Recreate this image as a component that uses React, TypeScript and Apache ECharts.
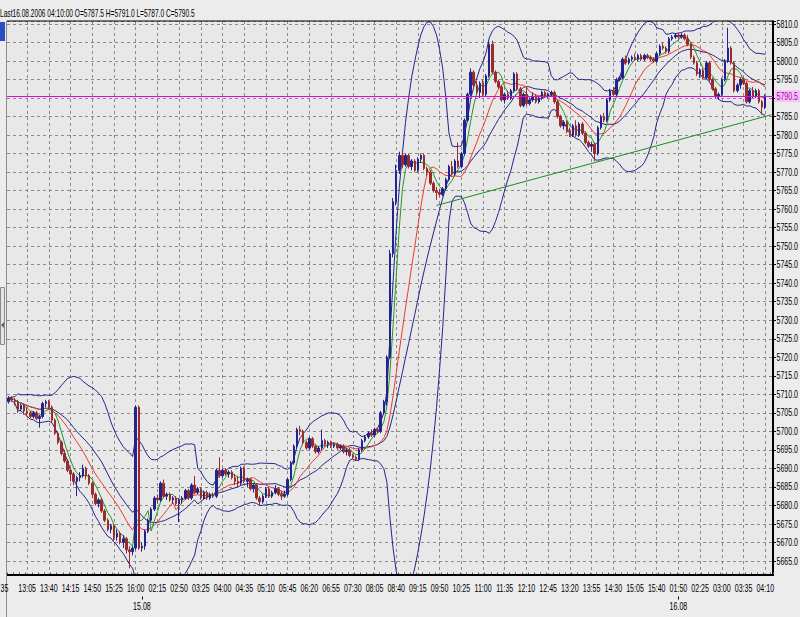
import { useEffect, useRef } from 'react';
import * as echarts from 'echarts';

// Trading sessions (5-minute bars)
const sessions = [
  { date: '14.08', start: '12:35', bars: 43 },
  { date: '15.08', start: '01:50', bars: 173 },
  { date: '16.08', start: '01:50', bars: 29 },
];
const padTimes = ['16.08 04:15', '16.08 04:20'];

// [open, close, low, high]
const bars14: number[][] = [
  [5708, 5709, 5707.5, 5709.5], [5709, 5708.5, 5708, 5709.5], [5708.5, 5708, 5707, 5709], [5708, 5706, 5705, 5708.5],
  [5706, 5707, 5705.5, 5707.5], [5707, 5705.5, 5704.5, 5707.5], [5705.5, 5705, 5704, 5706.5], [5705, 5704, 5703.5, 5705.5],
  [5704, 5705, 5703.5, 5705.5], [5705, 5703.5, 5703, 5705.5], [5703.5, 5704, 5701, 5704.5], [5704, 5707.5, 5703.5, 5708],
  [5707.5, 5708, 5706.5, 5708.5], [5708, 5706.5, 5706, 5708.5], [5706.5, 5703, 5702.5, 5707], [5703, 5699.5, 5699, 5703.5],
  [5699.5, 5697, 5696.5, 5700], [5697, 5694, 5693.5, 5697.5], [5694, 5692, 5691.5, 5695], [5692, 5689.5, 5689, 5692.5],
  [5689.5, 5688.5, 5686.5, 5690], [5688.5, 5686.5, 5685.5, 5689], [5686.5, 5687.5, 5682.5, 5688], [5687.5, 5688, 5686.5, 5689],
  [5688, 5690, 5687.5, 5691], [5690, 5688, 5687, 5690.5], [5688, 5686, 5685.5, 5688.5], [5686, 5683, 5682, 5686.5],
  [5683, 5680.5, 5680, 5683.5], [5680.5, 5681.5, 5679.5, 5682], [5681.5, 5678.5, 5678, 5682], [5678.5, 5676, 5675.5, 5679],
  [5676, 5673.5, 5673, 5676.5], [5673.5, 5674.5, 5672.5, 5675], [5674.5, 5671.5, 5670.5, 5675], [5671.5, 5672.5, 5670.5, 5673.5],
  [5672.5, 5670, 5669.5, 5673], [5670, 5671, 5668.5, 5672], [5671, 5668, 5667, 5671.5], [5668, 5667.5, 5663, 5669],
  [5667.5, 5668.5, 5666.5, 5669], [5668.5, 5706.5, 5668, 5707], [5706.5, 5668.5, 5668, 5707],
];

const bars15: number[][] = [
  [5668.5, 5669, 5667.5, 5670], [5669, 5673, 5668, 5673.5], [5673, 5676, 5672.5, 5676.5], [5676, 5679, 5675.5, 5679.5],
  [5679, 5682, 5678.5, 5682.5], [5682, 5681.5, 5680.5, 5683], [5681.5, 5686, 5681, 5686.5], [5686, 5682.5, 5682, 5687],
  [5682.5, 5683, 5681.5, 5683.5], [5683, 5681.5, 5681, 5683.5], [5681.5, 5682, 5680.5, 5682.5], [5682, 5680.5, 5680, 5682.5],
  [5680.5, 5681.5, 5675.5, 5682], [5681.5, 5682, 5680.5, 5682.5], [5682, 5684, 5681.5, 5684.5], [5684, 5682, 5681.5, 5684.5],
  [5682, 5685.5, 5681.5, 5686], [5685.5, 5683.5, 5683, 5688], [5683.5, 5684.5, 5683, 5685], [5684.5, 5682, 5681.5, 5685],
  [5682, 5683.5, 5681.5, 5684], [5683.5, 5682, 5681.5, 5684], [5682, 5683, 5681.5, 5683.5], [5683, 5682.5, 5682, 5683.5],
  [5682.5, 5689.5, 5682, 5690], [5689.5, 5688, 5687.5, 5693], [5688, 5689.5, 5687.5, 5690], [5689.5, 5688.5, 5688, 5690],
  [5688.5, 5689, 5687.5, 5689.5], [5689, 5687.5, 5687, 5689.5], [5687.5, 5686.5, 5685.5, 5688.5], [5686.5, 5686, 5685, 5688],
  [5686, 5690, 5685.5, 5690.5], [5690, 5686.5, 5686, 5690.5], [5686.5, 5687, 5685, 5687.5], [5687, 5684.5, 5684, 5687.5],
  [5684.5, 5685.5, 5683.5, 5686], [5685.5, 5682, 5681.5, 5686], [5682, 5681, 5680, 5682.5], [5681, 5682.5, 5680.5, 5683],
  [5682.5, 5684.5, 5682, 5685], [5684.5, 5682.5, 5682, 5685], [5682.5, 5683.5, 5682, 5684], [5683.5, 5684.5, 5683, 5685.5],
  [5684.5, 5683, 5682.5, 5685], [5683, 5682.5, 5681.5, 5684], [5682.5, 5683, 5682, 5684], [5683, 5687, 5682.5, 5687.5],
  [5687, 5691.5, 5686.5, 5692], [5691.5, 5696, 5691, 5696.5], [5696, 5700.5, 5695.5, 5701], [5700.5, 5700, 5699, 5701.5],
  [5700, 5697, 5696.5, 5700.5], [5697, 5695.5, 5695, 5697.5], [5695.5, 5698, 5695, 5698.5], [5698, 5696, 5695.5, 5698.5],
  [5696, 5694.5, 5694, 5696.5], [5694.5, 5695.5, 5694, 5696], [5695.5, 5697.5, 5695, 5700.5], [5697.5, 5696.5, 5696, 5698],
  [5696.5, 5697, 5695.5, 5697.5], [5697, 5696, 5695.5, 5697.5], [5696, 5696.5, 5695.5, 5697], [5696.5, 5695.5, 5695, 5697],
  [5695.5, 5696, 5695, 5696.5], [5696, 5694.5, 5694, 5696.5], [5694.5, 5695, 5693.5, 5695.5], [5695, 5693.5, 5693, 5695.5],
  [5693.5, 5693, 5692.5, 5694], [5693, 5692.5, 5692, 5693.5], [5692.5, 5695, 5692, 5695.5], [5695, 5697.5, 5694.5, 5698],
  [5697.5, 5698.5, 5697, 5699], [5698.5, 5699.5, 5698, 5700], [5699.5, 5699, 5698.5, 5700.5], [5699, 5700.5, 5698.5, 5701],
  [5700.5, 5700, 5699.5, 5701], [5700, 5705, 5699.5, 5705.5], [5705, 5708, 5704.5, 5708.5], [5708, 5720, 5707, 5720.5],
  [5720, 5748, 5719.5, 5749], [5748, 5762, 5747, 5763], [5762, 5770.5, 5761, 5772], [5770.5, 5774.5, 5769.5, 5775.5],
  [5774.5, 5772, 5771, 5775.5], [5772, 5774.5, 5771.5, 5775], [5774.5, 5771.5, 5771, 5775], [5771.5, 5773, 5770.5, 5773.5],
  [5773, 5770.5, 5770, 5773.5], [5770.5, 5773.5, 5770, 5774], [5773.5, 5774.5, 5772.5, 5775], [5774.5, 5771, 5770.5, 5775],
  [5771, 5770, 5769, 5771.5], [5770, 5767, 5766.5, 5770.5], [5767, 5765, 5764.5, 5767.5], [5765, 5764.5, 5762.5, 5766],
  [5764.5, 5764, 5763.5, 5765.5], [5764, 5765.5, 5763.5, 5766], [5765.5, 5768, 5765, 5768.5], [5768, 5771.5, 5767.5, 5772],
  [5771.5, 5769.5, 5769, 5773], [5769.5, 5773, 5769, 5773.5], [5773, 5771.5, 5771, 5778], [5771.5, 5775, 5771, 5775.5],
  [5775, 5784, 5774.5, 5784.5], [5784, 5791, 5783.5, 5791.5], [5791, 5797, 5790.5, 5798], [5797, 5793.5, 5793, 5797.5],
  [5793.5, 5791.5, 5791, 5794.5], [5791.5, 5794, 5790, 5794.5], [5794, 5791, 5790.5, 5795], [5791, 5796, 5790.5, 5796.5],
  [5796, 5804.5, 5795.5, 5805.5], [5804.5, 5797, 5796.5, 5805.5], [5797, 5794.5, 5794, 5797.5], [5794.5, 5793, 5792.5, 5795],
  [5793, 5789.5, 5789, 5793.5], [5789.5, 5791, 5788.5, 5791.5], [5791, 5790, 5789.5, 5792], [5790, 5792, 5789.5, 5792.5],
  [5792, 5796.5, 5791.5, 5797], [5796.5, 5792.5, 5792, 5797], [5792.5, 5788, 5787.5, 5793], [5788, 5791, 5787.5, 5791.5],
  [5791, 5788.5, 5788, 5793], [5788.5, 5789.5, 5788, 5790], [5789.5, 5790.5, 5789, 5791.5], [5790.5, 5789, 5788.5, 5791],
  [5789, 5790, 5788.5, 5790.5], [5790, 5791.5, 5789.5, 5792], [5791.5, 5790.5, 5790, 5792], [5790.5, 5791, 5790, 5791.5],
  [5791, 5791.5, 5790.5, 5792], [5791.5, 5789, 5788.5, 5792], [5789, 5785, 5784.5, 5789.5], [5785, 5782.5, 5782, 5785.5],
  [5782.5, 5783.5, 5781.5, 5784], [5783.5, 5781, 5780.5, 5784], [5781, 5780, 5779.5, 5782], [5780, 5782.5, 5779.5, 5783],
  [5782.5, 5780, 5779.5, 5784], [5780, 5783, 5779.5, 5783.5], [5783, 5780.5, 5780, 5783.5], [5780.5, 5778, 5777.5, 5781],
  [5778, 5777, 5776.5, 5778.5], [5777, 5777.5, 5775.5, 5778], [5777.5, 5775, 5773, 5778], [5775, 5782, 5774.5, 5782.5],
  [5782, 5785, 5781.5, 5785.5], [5785, 5784, 5783.5, 5786], [5784, 5789.5, 5783.5, 5790], [5789.5, 5792, 5789, 5792.5],
  [5792, 5791, 5790.5, 5793], [5791, 5795, 5790.5, 5795.5], [5795, 5795.5, 5794.5, 5796], [5795.5, 5800.5, 5795, 5801],
  [5800.5, 5799.5, 5799, 5801.5], [5799.5, 5800.5, 5799, 5801], [5800.5, 5801, 5800, 5801.5], [5801, 5800.5, 5800, 5802],
  [5800.5, 5801.5, 5800, 5802], [5801.5, 5800.5, 5800, 5802], [5800.5, 5801.5, 5800, 5802], [5801.5, 5801, 5800.5, 5802],
  [5801, 5800.5, 5800, 5801.5], [5800.5, 5800, 5799.5, 5801], [5800, 5802, 5799.5, 5802.5], [5802, 5804, 5801.5, 5804.5],
  [5804, 5803.5, 5803, 5805], [5803.5, 5802.5, 5802, 5804], [5802.5, 5806, 5802, 5806.5], [5806, 5806.5, 5805.5, 5807],
  [5806.5, 5807, 5806, 5807.5],
];

const bars16: number[][] = [
  [5807, 5806.5, 5806, 5807.5], [5806.5, 5807, 5806, 5807.5], [5807, 5806, 5805.5, 5807.5], [5806, 5804.5, 5804, 5807],
  [5804.5, 5801, 5800.5, 5805], [5801, 5799.5, 5799, 5801.5], [5799.5, 5796.5, 5796, 5800], [5796.5, 5797.5, 5795.5, 5798],
  [5797.5, 5795.5, 5795, 5798], [5795.5, 5799.5, 5795, 5800], [5799.5, 5795, 5794.5, 5800], [5795, 5792.5, 5792, 5795.5],
  [5792.5, 5790.5, 5790, 5793], [5790.5, 5791, 5789.5, 5791.5], [5791, 5795, 5790.5, 5795.5], [5795, 5800, 5794.5, 5800.5],
  [5800, 5803.5, 5799.5, 5809], [5803.5, 5799.5, 5799, 5804], [5799.5, 5792, 5791.5, 5800], [5792, 5793.5, 5791.5, 5794],
  [5793.5, 5795, 5792.5, 5795.5], [5795, 5794, 5793.5, 5795.5], [5794, 5789, 5788.5, 5794.5], [5789, 5792, 5788.5, 5792.5],
  [5792, 5790.5, 5790, 5793], [5790.5, 5792, 5790, 5792.5], [5792, 5789, 5788.5, 5792.5], [5789, 5787.5, 5785.5, 5789.5],
  [5787.5, 5790.5, 5787, 5791],
];

const headerText = 'Last16.08.2006 04:10:00 O=5787.5 H=5791.0 L=5787.0 C=5790.5';
const firstLabelTail = '35';
const lastPrice = 5790.5;
const trendStart = { index: 138, value: 5761 };
const trendEnd = { index: 246, value: 5785.5 };
const yTickFirst = 5665;
const yTickLast = 5810;
const yTickStep = 5;
const maFastPeriod = 5;
const maSlowPeriod = 13;
const bandPeriod = 20;
const bandDev = 2;

const FONT = "'Liberation Sans', Arial, sans-serif";
const SQ = 0.64; // horizontal squeeze of the condensed terminal font

function buildCategories(): string[] {
  const out: string[] = [];
  sessions.forEach((s) => {
    const [h, m] = s.start.split(':').map(Number);
    let t = h * 60 + m;
    for (let i = 0; i < s.bars; i++) {
      const hh = String(Math.floor(t / 60)).padStart(2, '0');
      const mm = String(t % 60).padStart(2, '0');
      out.push(`${s.date} ${hh}:${mm}`);
      t += 5;
    }
  });
  return out.concat(padTimes);
}

function sma(vals: number[], n: number): number[] {
  return vals.map((_, i) => {
    const s = Math.max(0, i - n + 1);
    let sum = 0;
    for (let k = s; k <= i; k++) sum += vals[k];
    return +(sum / (i - s + 1)).toFixed(2);
  });
}

function bands(vals: number[], n: number, dev: number) {
  const mid = sma(vals, n);
  const up: number[] = [];
  const lo: number[] = [];
  vals.forEach((_, i) => {
    const s = Math.max(0, i - n + 1);
    let v = 0;
    for (let k = s; k <= i; k++) v += (vals[k] - mid[i]) ** 2;
    const sd = Math.sqrt(v / (i - s + 1));
    up.push(+(mid[i] + dev * sd).toFixed(2));
    lo.push(+(mid[i] - dev * sd).toFixed(2));
  });
  return { mid, up, lo };
}

function squeezedText(text: string, x: number, y: number, align: string, extra: any = {}, scale = SQ) {
  return {
    type: 'text',
    z: 110,
    x,
    y,
    scaleX: scale,
    silent: true,
    style: {
      text,
      x: 0,
      y: 0,
      fontSize: 11,
      fontFamily: FONT,
      fill: '#000',
      align,
      verticalAlign: 'middle',
      ...extra,
    },
  };
}

export default function App() {
  const ref = useRef<HTMLDivElement>(null);
  useEffect(() => {
    if (!ref.current) return;
    const chart = echarts.init(ref.current, undefined, { renderer: 'svg' });
    const cats = buildCategories();
    const ohlc = [...bars14, ...bars15, ...bars16];
    const closes = ohlc.map((b) => b[1]);
    const maFast = sma(closes, maFastPeriod);
    const maSlow = sma(closes, maSlowPeriod);
    const bb = bands(closes, bandPeriod, bandDev);
    const nBars = ohlc.length;
    const labelIdx = (i: number) => i >= 6 && (i - 6) % 7 === 0 && i < nBars;
    const dateIdx: number[] = [];
    let acc = 0;
    sessions.forEach((s, k) => {
      if (k > 0) dateIdx.push(acc);
      acc += s.bars;
    });

    const gridTop = 21;
    const gridBottomY = 579.5;
    const navy = '#24248c';
    const lineSeries = (name: string, data: number[], color: string) => ({
      name,
      type: 'line',
      data,
      showSymbol: false,
      symbol: 'none',
      silent: true,
      lineStyle: { color, width: 1 },
      z: 3,
    });

    const staticGraphics: any[] = [
      { type: 'rect', z: 100, shape: { x: 0, y: 576, width: 780, height: 6 }, style: { fill: '#ececec' }, silent: true },
      { type: 'rect', z: 100, shape: { x: 0, y: 0, width: 780, height: 20.5 }, style: { fill: '#ececec' }, silent: true },
      { type: 'line', z: 101, shape: { x1: 7, y1: 21, x2: 774, y2: 21 }, style: { stroke: '#000', lineWidth: 1 }, silent: true },
      { type: 'line', z: 101, shape: { x1: 7, y1: 575, x2: 774, y2: 575 }, style: { stroke: '#000', lineWidth: 2 }, silent: true },
      { type: 'line', z: 101, shape: { x1: 6.5, y1: 21, x2: 6.5, y2: 617 }, style: { stroke: '#8c8c8c', lineWidth: 1 }, silent: true },
      { type: 'rect', z: 101, shape: { x: 0, y: 22, width: 5, height: 19 }, style: { fill: '#2d4cc6' }, silent: true },
      { type: 'rect', z: 101, shape: { x: 0.5, y: 287.5, width: 4, height: 57 }, style: { fill: '#e4e4e4', stroke: '#8c8c8c', lineWidth: 1 }, silent: true },
      { type: 'polygon', z: 102, shape: { points: [[1, 325], [4, 322], [4, 328]] }, style: { fill: '#666' }, silent: true },
      squeezedText(headerText, 0, 13, 'left', {}, 0.6),
    ];

    chart.setOption({
      animation: false,
      backgroundColor: '#ececec',
      textStyle: { fontFamily: FONT },
      grid: {
        left: 7,
        top: gridTop,
        width: 766,
        height: gridBottomY - gridTop,
        show: true,
        backgroundColor: '#e8e8e8',
        borderWidth: 0,
      },
      xAxis: [
        {
          type: 'category',
          data: cats,
          boundaryGap: true,
          axisLine: { show: false },
          axisTick: { show: true, inside: true, length: 7, interval: 1, lineStyle: { color: '#555' } },
          axisLabel: { show: false, interval: (i: number) => labelIdx(i) },
          splitLine: {
            show: true,
            interval: (i: number) => labelIdx(i),
            alignWithLabel: true,
            lineStyle: { color: '#8a8a8a', type: [3, 3], width: 1 },
          },
        },
        {
          type: 'category',
          data: cats,
          position: 'bottom',
          offset: 17,
          axisLine: { show: false },
          axisTick: {
            show: true,
            alignWithLabel: true,
            interval: (i: number) => dateIdx.includes(i),
            length: 3,
            lineStyle: { color: '#000' },
          },
          axisLabel: { show: false },
          splitLine: { show: false },
        },
      ],
      yAxis: {
        type: 'value',
        position: 'right',
        min: 5660,
        max: 5810.81,
        interval: 5,
        axisLine: { show: true, lineStyle: { color: '#000', width: 2 } },
        axisTick: { show: true, length: 3, lineStyle: { color: '#000' } },
        axisLabel: { show: false },
        splitLine: { show: true, lineStyle: { color: '#8a8a8a', type: [3, 3], width: 1 } },
      },
      series: [
        {
          name: 'price',
          type: 'candlestick',
          data: ohlc,
          barWidth: 2,
          silent: true,
          z: 4,
          itemStyle: {
            color: '#23238f',
            color0: '#9a2b2b',
            borderColor: '#23238f',
            borderColor0: '#9a2b2b',
            borderWidth: 1,
          },
          markLine: {
            silent: true,
            symbol: 'none',
            animation: false,
            label: { show: false },
            data: [
              { yAxis: lastPrice, lineStyle: { color: '#e600e6', width: 1, type: 'solid' } },
              [
                { coord: [cats[trendStart.index], trendStart.value], lineStyle: { color: '#1e8a1e', width: 1, type: 'solid' } },
                { coord: [cats[trendEnd.index], trendEnd.value] },
              ],
            ],
          },
        },
        lineSeries('upper', bb.up, navy),
        lineSeries('middle', bb.mid, navy),
        lineSeries('lower', bb.lo, navy),
        lineSeries('maSlow', maSlow, '#ee3a2a'),
        lineSeries('maFast', maFast, '#229922'),
      ],
      graphic: staticGraphics,
    });

    // Tick labels placed through the chart's own scales, drawn in a squeezed font
    const labels: any[] = [];
    const px = (i: number) => chart.convertToPixel({ xAxisIndex: 0 }, cats[i]) as number;
    const py = (v: number) => chart.convertToPixel({ yAxisIndex: 0 }, v) as number;
    labels.push(squeezedText(firstLabelTail, 0.5, 588, 'left'));
    for (let i = 0; i < nBars; i++) {
      if (labelIdx(i)) labels.push(squeezedText(cats[i].slice(6), px(i), 588, 'center'));
    }
    dateIdx.forEach((i) => labels.push(squeezedText(cats[i].slice(0, 5), px(i), 606, 'center')));
    for (let v = yTickFirst; v <= yTickLast; v += yTickStep) {
      if (v === 5790) continue;
      labels.push(squeezedText(v.toFixed(1), 776.5, py(v), 'left'));
    }
    const pLast = py(lastPrice);
    labels.push({
      type: 'rect',
      z: 105,
      silent: true,
      shape: { x: 775, y: pLast - 6, width: 25, height: 12 },
      style: { fill: '#f4c4f4' },
    });
    labels.push(squeezedText(lastPrice.toFixed(1), 776.5, pLast, 'left', { fill: '#b000b0' }));

    chart.setOption({ graphic: [...staticGraphics, ...labels] });
    return () => chart.dispose();
  }, []);
  return <div ref={ref} style={{ position: 'fixed', left: 0, top: 0, width: 800, height: 617 }} />;
}
